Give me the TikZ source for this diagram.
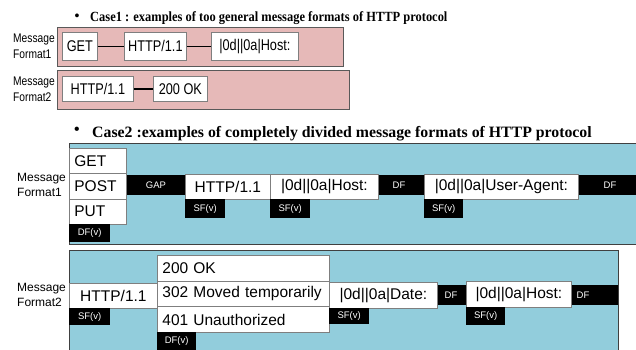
\documentclass[tikz,border=0pt]{standalone}
\usepackage{fontspec}
\setmainfont{Liberation Serif}
\newfontfamily\arial{Liberation Sans}
\newfontfamily\arialn[FakeStretch=0.82]{Liberation Sans}
\newfontfamily\timesn[FakeStretch=0.89]{Liberation Serif}
\definecolor{panelpink}{HTML}{E6B9B8}
\definecolor{panelblue}{HTML}{92CDDC}
\definecolor{boxgray}{HTML}{7F7F7F}
\tikzset{
  cell/.style={draw=boxgray, line width=0.8pt, fill=white, anchor=north west, inner sep=0pt},
  oldcell/.style={cell, font=\arialn\fontsize{15.5}{17}\selectfont},
  newcell/.style={cell, font=\arial\fontsize{15.5}{18}\selectfont},
  stackcell/.style={newcell, align=left, inner xsep=5pt},
  tag/.style={fill=black, text=white, anchor=north west, inner sep=0pt, font=\arial\fontsize{9.5}{11}\selectfont},
  bandtxt/.style={text=white, inner sep=0pt, font=\arial\fontsize{9.5}{11}\selectfont},
  link/.style={black, line width=1.5pt},
}
\begin{document}
\begin{tikzpicture}[x=1pt, y=-1pt]
\clip (0,0) rectangle (636,350);
\fill[white] (0,0) rectangle (636,350);
% Case1
\node[font=\bfseries\fontsize{14}{16}\selectfont] (bul1) at (77,17) {\textbullet};
\node[anchor=base west, inner sep=0pt, font=\timesn\bfseries\fontsize{14}{16}\selectfont] (title1) at (90,22) {Case1 : examples of too general message formats of HTTP protocol};
\draw[boxgray!70!black, line width=0.8pt, fill=panelpink] (57,27) rectangle (343,66);
\draw[boxgray!70!black, line width=0.8pt, fill=panelpink] (57,70) rectangle (349,109);
\node[anchor=west, align=left, inner sep=0pt, font=\arialn\fontsize{12.5}{16}\selectfont] (msg11) at (13,46) {Message\\Format1};
\node[anchor=west, align=left, inner sep=0pt, font=\arialn\fontsize{12.5}{16}\selectfont] (msg12) at (13,89) {Message\\Format2};
\node[oldcell, minimum width=35pt, minimum height=28pt] (get1) at (62,32) {GET};
\node[oldcell, minimum width=62pt, minimum height=28pt] (http1) at (124,32) {HTTP/1.1};
\node[oldcell, minimum width=87pt, minimum height=28pt] (host1) at (211,32) {|0d||0a|Host:};
\node[oldcell, minimum width=71pt, minimum height=25pt] (http2) at (62,76) {HTTP/1.1};
\node[oldcell, minimum width=54pt, minimum height=25pt] (ok2) at (153,76) {200 OK};
\draw[link] (get1) -- (http1);
\draw[link] (http1) -- (host1);
\draw[link] (http2) -- (ok2);
% Case2
\node[font=\bfseries\fontsize{15.8}{18}\selectfont] (bul2) at (77,131) {\textbullet};
\node[anchor=base west, inner sep=0pt, font=\bfseries\fontsize{15.8}{18}\selectfont] (title2) at (92,137) {Case2 :examples of completely divided message formats of HTTP protocol};
\draw[black!75, line width=0.8pt, fill=panelblue] (69,143) rectangle (640,244);
\draw[black!75, line width=0.8pt, fill=panelblue] (69,250) rectangle (618,356);
\node[anchor=west, align=left, inner sep=0pt, font=\arial\fontsize{12}{15}\selectfont] (msg21) at (17,185) {Message\\Format1};
\node[anchor=west, align=left, inner sep=0pt, font=\arial\fontsize{12}{15}\selectfont] (msg22) at (17,294.5) {Message\\Format2};
\fill[black] (126,175) rectangle (640,195);
\fill[black] (329,285) rectangle (618,305);
% format1
\node[stackcell, text width=47pt, minimum height=25.33pt] (get) at (69,148) {GET};
\node[stackcell, text width=47pt, minimum height=25.33pt] (post) at (69,173.33) {POST};
\node[stackcell, text width=47pt, minimum height=25.33pt] (put) at (69,198.67) {PUT};
\node[tag, minimum width=41pt, minimum height=18pt] (dfv1) at (69,224) {DF(v)};
\node[bandtxt] (gap) at (156,185) {GAP};
\node[newcell, minimum width=85pt, minimum height=25pt] (http3) at (185,174) {HTTP/1.1};
\node[tag, minimum width=40pt, minimum height=19pt] (sf1) at (185,199) {SF(v)};
\node[newcell, minimum width=108pt, minimum height=25pt] (host3) at (270,174) {|0d||0a|Host:};
\node[tag, minimum width=40pt, minimum height=19pt] (sf2) at (270,199) {SF(v)};
\node[bandtxt] (df1) at (399,185) {DF};
\node[newcell, minimum width=154pt, minimum height=25pt] (agent3) at (424,174) {|0d||0a|User-Agent:};
\node[tag, minimum width=39pt, minimum height=19pt] (sf3) at (424,199) {SF(v)};
\node[bandtxt] (df2) at (610,185) {DF};
% format2
\node[newcell, minimum width=88pt, minimum height=25pt] (http4) at (69,283) {HTTP/1.1};
\node[tag, minimum width=41pt, minimum height=17pt] (sf4) at (69,308) {SF(v)};
\node[stackcell, text width=162pt, minimum height=25.67pt] (ok4) at (157,255) {200 OK};
\node[stackcell, text width=162pt, minimum height=25.67pt] (moved4) at (157,280.67) {302 Moved temporarily};
\node[stackcell, text width=162pt, minimum height=25.67pt] (unauth4) at (157,306.33) {401 Unauthorized};
\node[tag, minimum width=39pt, minimum height=18pt] (dfv2) at (157,332) {DF(v)};
\node[newcell, minimum width=108pt, minimum height=26pt] (date4) at (329,282) {|0d||0a|Date:};
\node[tag, minimum width=40pt, minimum height=16pt] (sf5) at (329,308) {SF(v)};
\node[bandtxt] (df3) at (451,295) {DF};
\node[newcell, minimum width=105pt, minimum height=26pt] (host4) at (466,281) {|0d||0a|Host:};
\node[tag, minimum width=39pt, minimum height=18pt] (sf6) at (466,307) {SF(v)};
\node[bandtxt] (df4) at (583,295) {DF};
\end{tikzpicture}
\end{document}
